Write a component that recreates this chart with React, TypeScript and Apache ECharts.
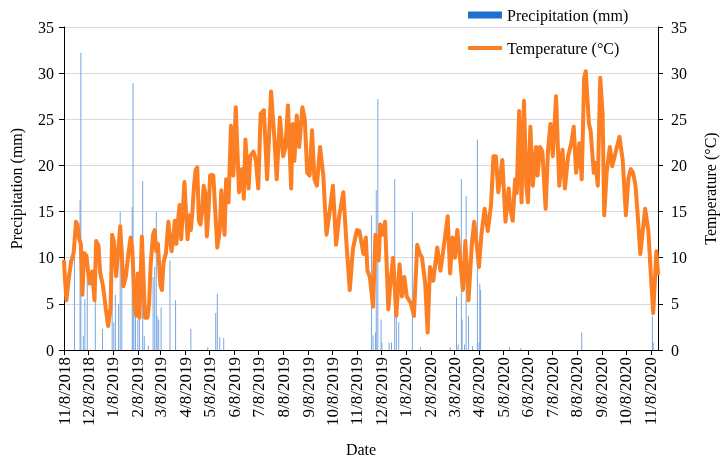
import React, { useEffect, useRef } from "react";
import * as echarts from "echarts";

// Daily axis: 11/8/2018 .. 11/18/2020
const START_DATE = "2018-11-08";
const DAY_COUNT = 741;

// Temperature readings: day offset from 11/8/2018, value in °C
const tempDays = [
  0, 1, 3, 6, 9, 12, 15, 17, 19, 21, 23, 25, 28, 30, 32, 35, 38, 40, 43, 45, 48, 50, 52, 55, 58,
  60, 62, 65, 67, 70, 72, 74, 77, 80, 83, 85, 88, 90, 92, 94, 97, 99, 101, 104, 106, 108, 111,
  113, 115, 117, 120, 122, 124, 127, 130, 132, 134, 136, 138, 140, 142, 144, 146, 148, 150, 152,
  154, 156, 158, 160, 162, 164, 166, 168, 170, 172, 174, 176, 178, 180, 182, 184, 186, 191, 194,
  196, 200, 202, 205, 208, 211, 214, 218, 222, 224, 226, 230, 232, 236, 239, 242, 245, 249, 253,
  258, 262, 265, 269, 273, 276, 279, 283, 285, 287, 290, 293, 297, 300, 303, 306, 309, 312, 315,
  319, 323, 327, 331, 335, 339, 343, 348, 352, 356, 360, 365, 368, 373, 376, 378, 381, 385, 388,
  392, 394, 397, 400, 404, 407, 410, 414, 418, 421, 424, 427, 432, 436, 440, 443, 446, 450, 453,
  456, 460, 465, 469, 473, 478, 481, 484, 487, 490, 494, 497, 500, 504, 508, 511, 515, 517, 520,
  524, 528, 532, 535, 538, 541, 546, 550, 554, 556, 559, 562, 564, 567, 570, 573, 576, 578, 581,
  584, 588, 590, 593, 596, 600, 603, 606, 609, 613, 617, 621, 624, 628, 632, 635, 638, 642, 645,
  648, 650, 654, 656, 660, 662, 665, 668, 671, 673, 676, 680, 683, 688, 692, 696, 700, 703, 706,
  709, 712, 715, 718, 724, 728, 731, 734, 738, 740,
];
const tempValues = [
  9.6, 8, 5.4, 7.8, 9.6, 10.5, 13.9, 13.5, 12, 11.5, 6, 10.5, 10.2, 8.5, 7.2, 8.5, 5.4, 11.8, 11.3,
  8.4, 7.2, 6, 4.5, 2.6, 4.5, 12.5, 11.8, 8, 10.2, 13.4, 10.5, 6.9, 7.9, 10.3, 12.2, 11, 5, 3.7,
  8.3, 3.5, 12.3, 8, 3.5, 3.5, 5, 9.3, 12.5, 13, 10.7, 11.5, 7, 6.5, 9.5, 10.5, 13.9, 12, 10.7, 12,
  14, 11.5, 14, 15.7, 12, 15, 18.2, 15, 12, 14.6, 13, 15, 17.8, 19.5, 19.8, 14, 13.6, 15, 17.8, 17,
  12.3, 15, 18.9, 19, 18.9, 11.1, 12.9, 17.3, 12.5, 18.5, 16, 24.3, 18.9, 26.3, 17.1, 19.6, 16.4,
  22.8, 17.5, 21, 21.5, 20.6, 17.5, 25.6, 26, 18.5, 28, 23.1, 18.5, 25.2, 21, 22, 26.5, 17.5, 24.5,
  20.5, 25.4, 22, 26.3, 25, 19.2, 18.9, 23.8, 18.5, 17.8, 22, 18.9, 12.5, 15, 17.8, 11.4, 14.6,
  17.1, 11.4, 6.5, 11, 13, 12.9, 10.4, 12.2, 8.6, 7.9, 4.7, 12.5, 9.7, 13.6, 12.5, 13.9, 4.4, 7.6,
  10, 3.7, 9.3, 5.8, 7.9, 5.8, 5.1, 3.7, 11.4, 10.5, 10, 7.2, 1.9, 9, 7.5, 11.1, 8.6, 11.1, 14.5,
  8.3, 12.2, 10, 13, 9.3, 6.5, 11.8, 5.4, 11.4, 13.9, 10.7, 9, 12.5, 15.3, 12.9, 15.7, 21, 21, 17.1,
  20.6, 13.9, 17.5, 15.3, 14, 18.5, 17, 25.9, 16, 27, 17.8, 16, 24.2, 17.8, 22, 18.9, 22, 21.5,
  15.3, 21.7, 24.5, 21, 27.5, 17.8, 21.7, 17.5, 21, 22.4, 24.2, 19.2, 22.4, 18.5, 29.5, 30.2, 24.5,
  23.8, 19.2, 20.3, 17.8, 29.5, 25.6, 14.6, 19.2, 22, 19.9, 21.7, 23.1, 20.6, 14.6, 18.5, 19.6,
  19.2, 17.8, 14.3, 10.4, 15.3, 12.9, 8.3, 4, 10.7, 8.3,
];

// Precipitation readings: day offset from 11/8/2018, value in mm
const rainDays = [
  13, 20, 21, 24, 26, 29, 39, 48, 60, 62, 64, 68, 70, 72, 85, 86, 87, 89, 92, 94, 98, 100, 105,
  111, 113, 115, 116, 118, 121, 132, 139, 158, 179, 189, 191, 194, 199, 383, 385, 388, 389, 391,
  395, 396, 405, 408, 412, 414, 417, 434, 444, 481, 489, 491, 495, 496, 499, 501, 504, 509, 515,
  517, 518, 519, 555, 569, 645, 733, 734,
];
const rainValues = [
  10.2, 16.2, 32.2, 1.5, 5.5, 8, 5.5, 2.3, 7.5, 3, 6, 5, 15, 7.8, 15.5, 28.9, 10, 4, 3.3, 3.3, 18.3,
  1.5, 0.5, 7.9, 9, 15, 3.7, 3.3, 4.6, 9.7, 5.4, 2.3, 0.3, 4, 6.1, 1.4, 1.3, 14.6, 1.6, 1.9, 17.3,
  27.2, 3.3, 0.8, 0.8, 0.8, 18.5, 4.4, 3, 15, 0.3, 0.3, 5.8, 0.6, 18.5, 3.3, 0.6, 16.7, 3.7, 0.4,
  22.8, 0.8, 7.2, 6.5, 0.3, 0.2, 1.9, 3.7, 0.8,
];

const PRECIP_NAME = "Precipitation (mm)";
const TEMP_NAME = "Temperature (°C)";
const FONT = "Liberation Serif";

export default function App() {
  const ref = useRef<HTMLDivElement>(null);

  useEffect(() => {
    if (!ref.current) return;
    const chart = echarts.init(ref.current, null, { renderer: "svg" });

    const [sy, sm, sd] = START_DATE.split("-").map(Number);
    const start = Date.UTC(sy, sm - 1, sd);
    const dayOfMonth: number[] = [];
    const dates = Array.from({ length: DAY_COUNT }, (_, i) => {
      const d = new Date(start + i * 86400000);
      dayOfMonth.push(d.getUTCDate());
      return `${d.getUTCMonth() + 1}/${d.getUTCDate()}/${d.getUTCFullYear()}`;
    });

    const rain: (number | null)[] = dates.map(() => null);
    rainDays.forEach((d, i) => {
      rain[d] = rainValues[i];
    });
    const temp = tempDays.map((d, i) => [d, tempValues[i]]);
    const isEighth = (idx: number) => dayOfMonth[idx] === 8;

    const yAxisBase = {
      type: "value" as const,
      min: 0,
      max: 35,
      interval: 5,
      nameLocation: "middle" as const,
      nameRotate: 90,
      nameTextStyle: { fontFamily: FONT, fontSize: 16, color: "#000" },
      axisLine: { show: true, lineStyle: { color: "#000", width: 1 } },
      axisTick: { show: true, length: 5, lineStyle: { color: "#000" } },
    };

    chart.setOption({
      animation: false,
      textStyle: { fontFamily: FONT },
      grid: { left: 53, right: 57, top: 27, bottom: 106, containLabel: false },
      legend: {
        orient: "vertical",
        left: 463,
        top: 2,
        itemWidth: 34,
        itemHeight: 7,
        itemGap: 17,
        textStyle: { fontFamily: FONT, fontSize: 16, color: "#000" },
        data: [
          { name: PRECIP_NAME, icon: "rect", itemStyle: { color: "#1f6fce" } },
          { name: TEMP_NAME, icon: "path://M0 0H34V4H0Z", itemStyle: { color: "#fd7f23" } },
        ],
      },
      xAxis: {
        type: "category",
        data: dates,
        boundaryGap: false,
        name: "Date",
        nameLocation: "middle",
        nameGap: 91,
        nameTextStyle: { fontFamily: FONT, fontSize: 16, color: "#000" },
        axisLine: { lineStyle: { color: "#000", width: 1 } },
        axisTick: { show: true, length: 5, interval: isEighth, lineStyle: { color: "#000" } },
        axisLabel: {
          interval: isEighth,
          rotate: 90,
          margin: 7,
          fontFamily: FONT,
          fontSize: 17,
          color: "#000",
        },
        splitLine: { show: false },
      },
      yAxis: [
        {
          ...yAxisBase,
          name: PRECIP_NAME,
          nameGap: 40,
          position: "left",
          axisLabel: { margin: 10, fontFamily: FONT, fontSize: 16, color: "#000" },
          splitLine: { show: true, lineStyle: { color: "#d9d9d9", width: 1 } },
        },
        {
          ...yAxisBase,
          name: TEMP_NAME,
          nameGap: 44,
          position: "right",
          axisLabel: { margin: 13, fontFamily: FONT, fontSize: 16, color: "#000" },
          splitLine: { show: false },
        },
      ],
      series: [
        {
          name: PRECIP_NAME,
          type: "bar",
          yAxisIndex: 0,
          data: rain,
          barWidth: 1,
          itemStyle: { color: "#7aa6e2" },
        },
        {
          name: TEMP_NAME,
          type: "line",
          yAxisIndex: 1,
          data: temp,
          showSymbol: false,
          symbol: "none",
          lineStyle: { color: "#fd7f23", width: 4, join: "round", cap: "round" },
          itemStyle: { color: "#fd7f23" },
          z: 3,
        },
      ],
    });

    return () => chart.dispose();
  }, []);

  return (
    <div
      ref={ref}
      style={{ position: "fixed", left: 0, top: 0, width: 726, height: 462 }}
    />
  );
}
